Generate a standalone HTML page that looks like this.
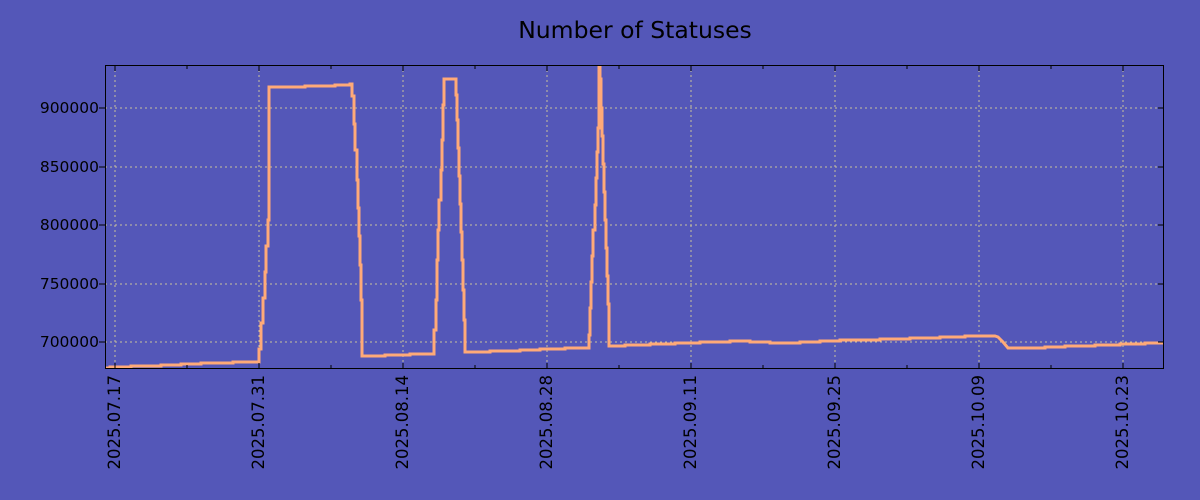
<!DOCTYPE html>
<html><head><meta charset="utf-8"><style>
html,body{margin:0;padding:0;background:#5457b8;}
svg{display:block;font-family:"DejaVu Sans","Liberation Sans",sans-serif;}
</style></head><body>
<svg width="1200" height="500" viewBox="0 0 1200 500">
<rect width="1200" height="500" fill="#5457b8"/>
<text x="635" y="38" font-size="23.5" text-anchor="middle" fill="#000">Number of Statuses</text>
<g stroke="#c8c09c" stroke-width="1" stroke-dasharray="2,3" fill="none">
<line x1="105" x2="1164" y1="108" y2="108"/>
<line x1="105" x2="1164" y1="167" y2="167"/>
<line x1="105" x2="1164" y1="225" y2="225"/>
<line x1="105" x2="1164" y1="284" y2="284"/>
<line x1="105" x2="1164" y1="342" y2="342"/>
<line x1="115" x2="115" y1="65" y2="369"/>
<line x1="259" x2="259" y1="65" y2="369"/>
<line x1="403" x2="403" y1="65" y2="369"/>
<line x1="547" x2="547" y1="65" y2="369"/>
<line x1="691" x2="691" y1="65" y2="369"/>
<line x1="835" x2="835" y1="65" y2="369"/>
<line x1="979" x2="979" y1="65" y2="369"/>
<line x1="1123" x2="1123" y1="65" y2="369"/>
</g>
<svg x="105" y="65" width="1059" height="304" overflow="hidden">
<g transform="translate(-105,-65)">
<polyline fill="none" stroke="#ffaa78" stroke-width="3" stroke-linejoin="miter" points="
105,368 110,368 110,367 131,367 131,366 161,366 161,365 181,365 181,364 201,364 201,363 233,363 233,362 259,362 259,349 261,349 261,323 263,323 263,298 265,298 265,272 266,272 266,246 268,246 268,220 269,220 269,87 305,87 305,86 335,86 335,85 350,85 350,84 352,84 352,96 354,96 354,124 355,124 355,150 357,150 357,180 358,180 358,208 359,208 359,236 360,236 360,265 361,265 361,300 362,300 362,356 385,356 385,355 410,355 410,354 434,354 434,330 436,330 436,300 437,300 437,260 438,260 438,230 439,230 439,200 441,200 441,170 442,170 442,140 443,140 443,105 444,105 444,79 456,79 456,95 457,95 457,120 458,120 458,148 459,148 459,176 460,176 460,204 461,204 461,232 462,232 462,260 463,260 463,290 464,290 464,320 465,320 465,352 490,352 490,351 520,351 520,350 540,350 540,349 565,349 565,348 589,348 589,335 590,335 590,308 591,308 591,282 592,282 592,256 593,256 593,230 595,230 595,205 596,205 596,178 597,178 597,152 598,152 598,128 599,128 599,65 600,65 600,79 601,79 601,108 602,108 602,136 603,136 603,164 604,164 604,192 605,192 605,220 606,220 606,248 607,248 607,276 608,276 608,304 609,304 609,346 625,346 625,345 650,345 650,344 675,344 675,343 700,343 700,342 730,342 730,341 750,341 750,342 770,342 770,343 800,343 800,342 820,342 820,341 840,341 840,340 880,340 880,339 910,339 910,338 940,338 940,337 965,337 965,336 995,336 998,337 1003,342 1008,348 1010,348 1020,348 1045,348 1045,347 1065,347 1065,346 1095,346 1095,345 1120,345 1120,344 1145,344 1145,343 1164,343"/>
</g></svg>
<rect x="105.5" y="65.5" width="1058" height="303" fill="none" stroke="#000" stroke-width="1"/>
<g stroke="#000" stroke-width="1">
<line x1="105" x2="99" y1="108" y2="108"/><line x1="1164" x2="1158" y1="108" y2="108"/>
<line x1="105" x2="99" y1="167" y2="167"/><line x1="1164" x2="1158" y1="167" y2="167"/>
<line x1="105" x2="99" y1="225" y2="225"/><line x1="1164" x2="1158" y1="225" y2="225"/>
<line x1="105" x2="99" y1="284" y2="284"/><line x1="1164" x2="1158" y1="284" y2="284"/>
<line x1="105" x2="99" y1="342" y2="342"/><line x1="1164" x2="1158" y1="342" y2="342"/>
<line x1="115" x2="115" y1="369" y2="363"/><line x1="259" x2="259" y1="369" y2="363"/><line x1="403" x2="403" y1="369" y2="363"/><line x1="547" x2="547" y1="369" y2="363"/><line x1="691" x2="691" y1="369" y2="363"/><line x1="835" x2="835" y1="369" y2="363"/><line x1="979" x2="979" y1="369" y2="363"/><line x1="1123" x2="1123" y1="369" y2="363"/>
<line x1="187" x2="187" y1="369" y2="365"/><line x1="331" x2="331" y1="369" y2="365"/><line x1="475" x2="475" y1="369" y2="365"/><line x1="619" x2="619" y1="369" y2="365"/><line x1="763" x2="763" y1="369" y2="365"/><line x1="907" x2="907" y1="369" y2="365"/><line x1="1051" x2="1051" y1="369" y2="365"/>
<line x1="115" x2="115" y1="65" y2="71"/><line x1="259" x2="259" y1="65" y2="71"/><line x1="403" x2="403" y1="65" y2="71"/><line x1="547" x2="547" y1="65" y2="71"/><line x1="691" x2="691" y1="65" y2="71"/><line x1="835" x2="835" y1="65" y2="71"/><line x1="979" x2="979" y1="65" y2="71"/><line x1="1123" x2="1123" y1="65" y2="71"/>
<line x1="187" x2="187" y1="65" y2="69"/><line x1="331" x2="331" y1="65" y2="69"/><line x1="475" x2="475" y1="65" y2="69"/><line x1="619" x2="619" y1="65" y2="69"/><line x1="763" x2="763" y1="65" y2="69"/><line x1="907" x2="907" y1="65" y2="69"/><line x1="1051" x2="1051" y1="65" y2="69"/>
</g>
<g font-size="15.5" fill="#000" text-anchor="end">
<text x="99" y="113">900000</text>
<text x="99" y="172">850000</text>
<text x="99" y="230">800000</text>
<text x="99" y="289">750000</text>
<text x="99" y="347">700000</text>
</g>
<g font-size="16.5" fill="#000" text-anchor="end">
<text transform="translate(120,375) rotate(-90)">2025.07.17</text>
<text transform="translate(264,375) rotate(-90)">2025.07.31</text>
<text transform="translate(408,375) rotate(-90)">2025.08.14</text>
<text transform="translate(552,375) rotate(-90)">2025.08.28</text>
<text transform="translate(696,375) rotate(-90)">2025.09.11</text>
<text transform="translate(840,375) rotate(-90)">2025.09.25</text>
<text transform="translate(984,375) rotate(-90)">2025.10.09</text>
<text transform="translate(1128,375) rotate(-90)">2025.10.23</text>
</g>
</svg>
</body></html>
